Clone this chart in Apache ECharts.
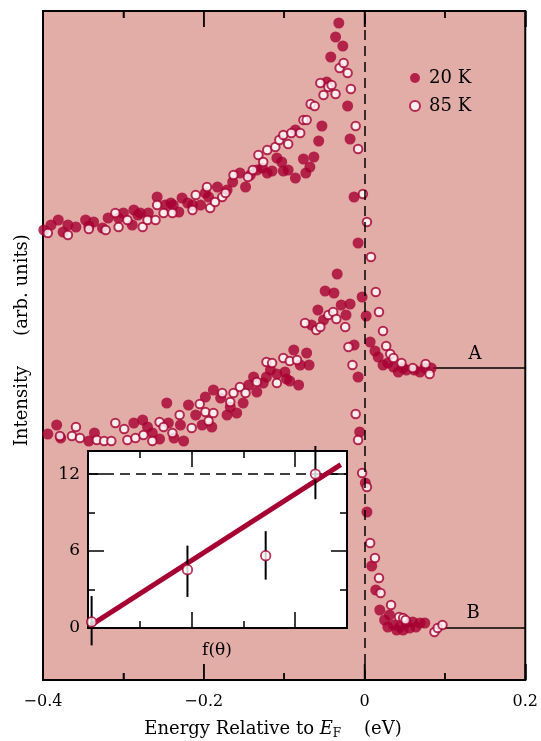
<!DOCTYPE html>
<html><head><meta charset="utf-8">
<script src="https://cdn.jsdelivr.net/npm/echarts@6/dist/echarts.min.js"></script>
<style>html,body{margin:0;padding:0;background:#fff}#c{width:541px;height:741px}</style>
</head><body><div id="c"></div>
<script>
// ---- data (energy in eV, intensity in arb. units) ----
const energyTicks = [-0.4, -0.2, 0, 0.2];
const energyMinorTicks = [-0.3, -0.1, 0.1];
const a20K = [[-0.399,45.0],[-0.390,45.5],[-0.381,46.0],[-0.375,44.8],[-0.369,45.5],[-0.359,45.3],[-0.347,46.0],[-0.343,45.4],[-0.337,45.8],[-0.326,45.2],[-0.319,46.2],[-0.306,46.2],[-0.300,46.7],[-0.289,45.5],[-0.287,47.0],[-0.282,46.5],[-0.279,46.7],[-0.269,46.7],[-0.258,48.3],[-0.248,47.5],[-0.241,47.7],[-0.238,47.5],[-0.231,46.8],[-0.227,48.2],[-0.220,47.7],[-0.214,47.5],[-0.204,47.5],[-0.198,48.7],[-0.194,48.3],[-0.183,49.3],[-0.171,49.0],[-0.164,49.8],[-0.155,50.7],[-0.148,49.3],[-0.142,50.5],[-0.134,51.0],[-0.127,51.2],[-0.121,50.7],[-0.115,50.9],[-0.109,52.2],[-0.103,51.8],[-0.101,50.9],[-0.095,51.0],[-0.086,50.2],[-0.086,55.0],[-0.076,52.1],[-0.073,50.7],[-0.068,51.3],[-0.063,52.3],[-0.057,53.9],[-0.053,55.4],[-0.047,59.8],[-0.042,62.3],[-0.036,64.3],[-0.032,65.7],[-0.027,63.4],[-0.021,57.4],[-0.018,54.1],[-0.013,48.3],[-0.008,43.7],[-0.003,38.3],[0.002,36.4],[0.007,33.8],[0.013,32.9],[0.017,32.3],[0.023,31.5],[0.029,31.7],[0.036,31.3],[0.042,30.8],[0.048,31.2],[0.052,31.0],[0.062,31.0],[0.069,30.8],[0.075,31.2],[0.083,31.2]];
const a85K = [[-0.394,44.7],[-0.369,44.5],[-0.343,45.1],[-0.322,45.0],[-0.310,46.7],[-0.306,45.3],[-0.295,46.0],[-0.276,45.3],[-0.270,46.0],[-0.260,46.0],[-0.258,47.5],[-0.250,46.7],[-0.239,46.7],[-0.214,47.0],[-0.210,48.5],[-0.196,49.3],[-0.192,47.2],[-0.186,47.8],[-0.177,48.3],[-0.173,48.7],[-0.163,50.5],[-0.145,50.3],[-0.139,51.0],[-0.132,52.5],[-0.126,51.8],[-0.121,53.0],[-0.111,53.3],[-0.106,54.0],[-0.101,54.5],[-0.095,53.6],[-0.091,54.7],[-0.080,54.7],[-0.076,56.0],[-0.072,56.0],[-0.067,57.6],[-0.062,57.4],[-0.055,59.7],[-0.051,58.5],[-0.045,59.3],[-0.041,59.5],[-0.036,58.6],[-0.031,61.2],[-0.026,61.7],[-0.021,60.7],[-0.017,59.1],[-0.011,55.4],[-0.008,53.1],[-0.002,48.6],[0.003,45.8],[0.008,42.3],[0.014,38.8],[0.018,36.8],[0.023,34.9],[0.027,33.4],[0.032,32.6],[0.036,32.2],[0.046,31.7],[0.060,31.2],[0.076,31.6],[0.081,30.6]];
const b20K = [[-0.394,24.6],[-0.383,25.5],[-0.378,24.2],[-0.343,23.9],[-0.336,24.7],[-0.287,25.7],[-0.276,26.0],[-0.270,25.3],[-0.264,24.7],[-0.255,24.1],[-0.246,27.7],[-0.244,25.7],[-0.237,24.2],[-0.229,25.5],[-0.225,23.9],[-0.219,27.5],[-0.210,26.5],[-0.202,25.5],[-0.198,28.3],[-0.190,25.3],[-0.188,29.0],[-0.179,28.2],[-0.171,26.5],[-0.167,27.3],[-0.159,26.7],[-0.151,27.7],[-0.144,29.5],[-0.138,30.3],[-0.134,28.8],[-0.126,29.7],[-0.122,30.3],[-0.117,31.0],[-0.109,30.6],[-0.099,30.8],[-0.097,30.1],[-0.093,29.9],[-0.088,33.0],[-0.082,29.5],[-0.080,31.5],[-0.072,32.7],[-0.069,31.5],[-0.066,35.5],[-0.058,37.0],[-0.051,36.0],[-0.049,38.9],[-0.038,38.7],[-0.034,40.6],[-0.029,37.5],[-0.023,36.5],[-0.018,37.6],[-0.013,33.5],[-0.008,30.3],[-0.006,24.8],[0.001,19.7],[0.003,16.8],[0.009,11.4],[0.014,9.0],[0.019,7.0],[0.025,6.0],[0.029,5.3],[0.031,6.5],[0.036,5.5],[0.040,5.0],[0.044,5.3],[0.048,5.0],[0.052,5.7],[0.056,5.2],[0.060,5.8],[0.064,5.3],[0.069,5.7],[0.075,5.7]];
const b85K = [[-0.379,24.4],[-0.364,24.4],[-0.359,25.3],[-0.354,24.2],[-0.333,24.0],[-0.324,23.9],[-0.315,23.9],[-0.310,25.7],[-0.299,25.1],[-0.295,24.0],[-0.285,24.2],[-0.275,24.5],[-0.264,23.9],[-0.255,25.8],[-0.250,25.3],[-0.239,24.7],[-0.230,26.5],[-0.215,25.2],[-0.205,27.6],[-0.198,26.8],[-0.194,25.9],[-0.188,26.7],[-0.177,28.7],[-0.167,27.8],[-0.163,28.7],[-0.155,29.3],[-0.148,28.7],[-0.134,29.8],[-0.122,31.8],[-0.115,31.7],[-0.109,29.7],[-0.101,32.2],[-0.093,31.9],[-0.084,32.0],[-0.074,35.7],[-0.060,35.0],[-0.055,35.3],[-0.045,36.5],[-0.039,36.8],[-0.035,36.1],[-0.024,35.3],[-0.020,33.3],[-0.015,31.5],[-0.011,26.6],[-0.008,24.0],[-0.003,20.7],[0.003,19.3],[0.007,13.7],[0.013,12.2],[0.018,10.2],[0.020,8.7],[0.033,7.5],[0.043,6.3],[0.048,6.2],[0.051,6.0],[0.087,4.8],[0.091,5.2],[0.097,5.5]];
const baselineA = [[0.085,31.2],[0.2,31.2]];
const baselineB = [[0.0995,5.2],[0.2,5.2]];
const seriesNames = ['20 K', '85 K'];
const curveLabels = ['A', 'B'];
// inset: f(theta) vs value
const insetPoints = [[0.07,0.47],[1.92,4.55],[3.43,5.64],[4.39,12.0]];
const insetErrors = [[0.07,-1.35,2.49],[1.92,2.42,6.42],[3.43,3.77,7.55],[4.39,10.04,14.19]];
const insetFit = [[0.05,0.2],[4.88,12.74]];
const insetRef = 12;
const insetTicks = [0, 6, 12];

const RED = '#a60032';
const FONT = 'DejaVu Serif';
const MAIN_H = 669, INSET_W = 259, INSET_H = 177;
const Y_MAX = 66.9;
const MAJOR_LEN = 16 * Y_MAX / MAIN_H, MINOR_LEN = 7 * Y_MAX / MAIN_H; // tick lengths on the y scale
const chart = echarts.init(document.getElementById('c'), null, {renderer: 'canvas'});
const fmtE = v => Math.abs(v) < 1e-9 ? '0' : (v < 0 ? '\u2212' : '') + Math.abs(v).toFixed(1);
const TICK = {color: '#000', width: 1.5};
const E_MIN = energyTicks[0], E_MAX = energyTicks[energyTicks.length - 1];

function tickX(grid, pos, min, max, interval, len, off) {
  return {gridIndex: grid, type: 'value', min: min, max: max, interval: interval, position: pos, offset: -off,
    axisLine: {show: false, onZero: false}, splitLine: {show: false}, axisLabel: {show: false},
    axisTick: {show: true, length: len, lineStyle: TICK}};
}
function tickY(grid, pos, min, max, interval, len, off) {
  return {gridIndex: grid, type: 'value', min: min, max: max, interval: interval, position: pos, offset: -off,
    axisLine: {show: false, onZero: false}, splitLine: {show: false}, axisLabel: {show: false},
    axisTick: {show: true, length: len, lineStyle: TICK}};
}
// main-axis inward ticks as markLine segments (placed through the axes' scales)
const tickLines = [];
energyTicks.concat(energyMinorTicks).forEach(v => {
  const len = energyTicks.indexOf(v) >= 0 ? MAJOR_LEN : MINOR_LEN;
  tickLines.push([{coord: [v, 0]}, {coord: [v, len]}]);
  tickLines.push([{coord: [v, Y_MAX]}, {coord: [v, Y_MAX - len]}]);
});
// same ticks again as thin rectangle symbols (belt and braces)
const tickBottom = energyTicks.map(v => ({value: [v, 0], symbolSize: [1.5, 16], symbolOffset: [0, -8]}))
  .concat(energyMinorTicks.map(v => ({value: [v, 0], symbolSize: [1.5, 7], symbolOffset: [0, -3.5]})));
const tickTop = energyTicks.map(v => ({value: [v, Y_MAX], symbolSize: [1.5, 16], symbolOffset: [0, 8]}))
  .concat(energyMinorTicks.map(v => ({value: [v, Y_MAX], symbolSize: [1.5, 7], symbolOffset: [0, 3.5]})));

const option = {
  animation: false,
  textStyle: {fontFamily: FONT},
  grid: [
    {left: 43, right: 15, top: 11, bottom: 61, show: true, backgroundColor: '#e2aca7', borderColor: '#000', borderWidth: 2},
    {left: 88, top: 451, width: INSET_W, height: INSET_H, show: true, backgroundColor: '#ffffff', borderColor: '#000', borderWidth: 2}
  ],
  legend: {
    data: seriesNames, orient: 'vertical', left: 404, top: 64, itemWidth: 10, itemHeight: 10, itemGap: 10,
    icon: 'circle',
    textStyle: {fontFamily: FONT, fontSize: 18, color: '#000', padding: [0, 0, 0, 4]}
  },
  xAxis: [
    {gridIndex: 0, type: 'value', min: E_MIN, max: E_MAX, interval: 0.2, position: 'bottom',
      axisLine: {show: false, onZero: false}, splitLine: {show: false}, axisTick: {show: false},
      axisLabel: {margin: 14, fontFamily: FONT, fontSize: 16, color: '#000', formatter: fmtE}},
    tickX(1, 'top', 0, 5, 2, 16, INSET_H), tickX(1, 'top', 0, 5, 1, 7, INSET_H),
    tickX(1, 'bottom', 0, 5, 2, 16, INSET_H), tickX(1, 'bottom', 0, 5, 1, 7, INSET_H)
  ],
  yAxis: [
    {gridIndex: 0, type: 'value', min: 0, max: Y_MAX, axisLine: {show: false}, axisTick: {show: false}, axisLabel: {show: false}, splitLine: {show: false}},
    {gridIndex: 1, type: 'value', min: 0, max: 13.8, interval: 6, position: 'left',
      axisLine: {show: false, onZero: false}, splitLine: {show: false}, axisTick: {show: false},
      axisLabel: {margin: 8, fontFamily: FONT, fontSize: 17, color: '#000', showMaxLabel: false,
        formatter: v => insetTicks.indexOf(v) >= 0 ? String(v) : ''}},
    tickY(1, 'right', 0, 13.8, 6, 16, INSET_W), tickY(1, 'right', 0, 13.8, 3, 7, INSET_W),
    tickY(1, 'left', 0, 13.8, 6, 16, INSET_W), tickY(1, 'left', 0, 13.8, 3, 7, INSET_W)
  ],
  graphic: [
    {type: 'text', x: 22, y: 406, rotation: Math.PI / 2,
      style: {text: 'Intensity', font: '18px "DejaVu Serif"', fill: '#000', align: 'center', verticalAlign: 'middle', textAlign: 'center', textVerticalAlign: 'middle'}},
    {type: 'text', x: 22, y: 285, rotation: Math.PI / 2,
      style: {text: '(arb. units)', font: '18px "DejaVu Serif"', fill: '#000', align: 'center', verticalAlign: 'middle', textAlign: 'center', textVerticalAlign: 'middle'}},
    {type: 'text', x: 273, y: 729,
      style: {text: '{a|Energy Relative to }{e|E}{s|F}{a|    (eV)}', align: 'center', verticalAlign: 'middle', textAlign: 'center', textVerticalAlign: 'middle', fill: '#000',
        rich: {a: {fontFamily: FONT, fontSize: 18, lineHeight: 22}, e: {fontFamily: FONT, fontSize: 18, fontStyle: 'italic', lineHeight: 22},
          s: {fontFamily: FONT, fontSize: 12, lineHeight: 12, verticalAlign: 'bottom'}}}},
    {type: 'text', x: 475, y: 354, style: {text: curveLabels[0], font: '18px "DejaVu Serif"', fill: '#000', align: 'center', verticalAlign: 'middle', textAlign: 'center', textVerticalAlign: 'middle'}},
    {type: 'text', x: 473, y: 613, style: {text: curveLabels[1], font: '18px "DejaVu Serif"', fill: '#000', align: 'center', verticalAlign: 'middle', textAlign: 'center', textVerticalAlign: 'middle'}},
    {type: 'text', x: 217, y: 651, style: {text: 'f(\u03b8)', font: '17px "DejaVu Serif"', fill: '#000', align: 'center', verticalAlign: 'middle', textAlign: 'center', textVerticalAlign: 'middle'}}
  ],
  series: [
    {type: 'line', xAxisIndex: 0, yAxisIndex: 0, data: baselineA, showSymbol: false, silent: true,
      lineStyle: {color: '#000', width: 1.5}, z: 1,
      markLine: {silent: true, symbol: 'none', label: {show: false}, lineStyle: {color: '#000', width: 1.5, type: [10, 6]}, data: [{xAxis: 0}]}},
    {type: 'line', xAxisIndex: 0, yAxisIndex: 0, data: baselineB, showSymbol: false, silent: true, lineStyle: {color: '#000', width: 1.5}, z: 1,
      markLine: {silent: true, symbol: 'none', label: {show: false}, lineStyle: {color: '#000', width: 1.5, type: 'solid'}, data: tickLines}},
    {type: 'scatter', xAxisIndex: 0, yAxisIndex: 0, data: tickBottom.concat(tickTop), symbol: 'rect', clip: false, silent: true,
      itemStyle: {color: '#000'}, z: 2},
    {name: seriesNames[0], type: 'scatter', xAxisIndex: 0, yAxisIndex: 0, data: a20K, symbol: 'circle', symbolSize: 11, itemStyle: {color: RED}, z: 3},
    {name: seriesNames[0], type: 'scatter', xAxisIndex: 0, yAxisIndex: 0, data: b20K, symbol: 'circle', symbolSize: 11, itemStyle: {color: RED}, z: 3},
    {name: seriesNames[1], type: 'scatter', xAxisIndex: 0, yAxisIndex: 0, data: a85K, symbol: 'circle', symbolSize: 8.5, itemStyle: {color: '#fff', borderColor: RED, borderWidth: 2}, z: 4},
    {name: seriesNames[1], type: 'scatter', xAxisIndex: 0, yAxisIndex: 0, data: b85K, symbol: 'circle', symbolSize: 8.5, itemStyle: {color: '#fff', borderColor: RED, borderWidth: 2}, z: 4},
    // inset
    {type: 'line', xAxisIndex: 1, yAxisIndex: 1, data: insetFit, showSymbol: false, silent: true, lineStyle: {color: RED, width: 5}, z: 5,
      markLine: {silent: true, symbol: 'none', label: {show: false}, lineStyle: {color: '#000', width: 1.5, type: [10, 6]}, data: [{yAxis: insetRef}]}},
    {type: 'custom', xAxisIndex: 1, yAxisIndex: 1, data: insetErrors, clip: false, silent: true, z: 6,
      encode: {x: 0, y: [1, 2]},
      renderItem: (params, api) => {
        const a = api.coord([api.value(0), api.value(1)]);
        const b = api.coord([api.value(0), api.value(2)]);
        return {type: 'line', shape: {x1: a[0], y1: a[1], x2: b[0], y2: b[1]}, style: {stroke: '#000', lineWidth: 2}};
      }},
    {type: 'scatter', xAxisIndex: 1, yAxisIndex: 1, data: insetPoints, symbol: 'circle', symbolSize: 9.5, clip: false, silent: true,
      itemStyle: {color: '#fff', borderColor: RED, borderWidth: 1.8}, z: 7}
  ]
};
chart.setOption(option);
</script>
</body></html>
